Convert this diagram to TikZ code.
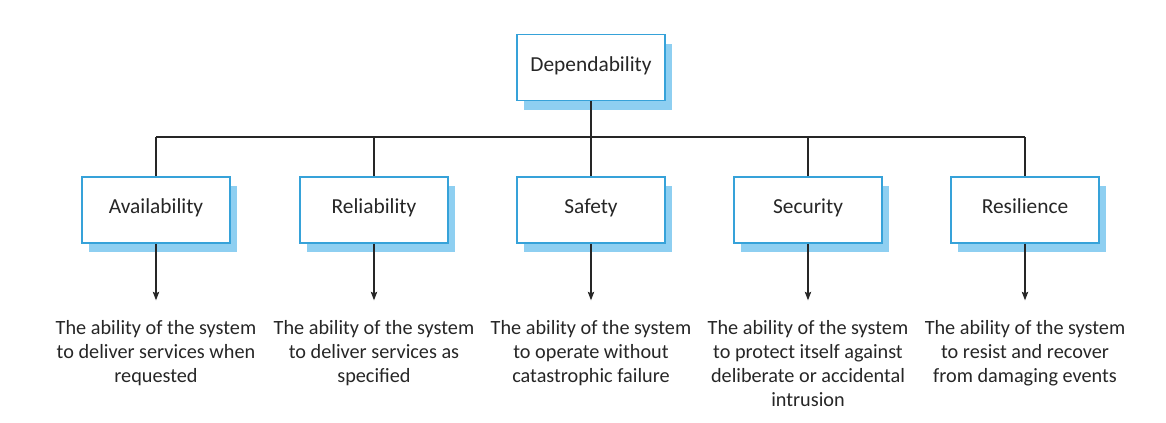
\documentclass[tikz,border=0pt]{standalone}
\usepackage{fontspec}
\setmainfont{Carlito}
\usetikzlibrary{arrows.meta,shadows}
\definecolor{boxblue}{HTML}{36A2D9}
\definecolor{shadeblue}{HTML}{8ECFF1}
\definecolor{inkgray}{HTML}{262626}
\begin{document}
\begin{tikzpicture}[x=0.025cm,y=-0.025cm,
	propbox/.style={draw=boxblue,line width=1.4pt,fill=white,minimum width=3.7cm,minimum height=1.65cm,
		text=inkgray,font=\fontsize{15.2}{18}\selectfont,text height=0.75em,text depth=0.22em,
		drop shadow={shadow xshift=0.18cm,shadow yshift=-0.23cm,fill=shadeblue,opacity=1}},
	proptext/.style={anchor=north,align=center,inner sep=0pt,text=inkgray,font=\fontsize{14.4}{17}\selectfont},
	link/.style={draw=inkgray,line width=0.9pt},
	arrowlink/.style={link,-{Stealth[length=6pt,width=4.5pt,inset=1pt]},shorten >=14pt}
]
\useasboundingbox (0,0) rectangle (1166,422);

\node[propbox] (dep) at (591,67.5) {Dependability};
\coordinate (bus) at (591,137);

%Eigenschaften
\node[propbox] (avail) at (156,210) {Availability};
\node[propbox] (rel) at (374,210) {Reliability};
\node[propbox] (safe) at (591,210) {Safety};
\node[propbox] (sec) at (808,210) {Security};
\node[propbox] (res) at (1025,210) {Resilience};

%Beschreibungen
\node[proptext] (availtxt) at (156,320) {The ability of the system\\to deliver services when\\requested};
\node[proptext] (reltxt) at (374,320) {The ability of the system\\to deliver services as\\specified};
\node[proptext] (safetxt) at (591,320) {The ability of the system\\to operate without\\catastrophic failure};
\node[proptext] (sectxt) at (808,320) {The ability of the system\\to protect itself against\\deliberate or accidental\\intrusion};
\node[proptext] (restxt) at (1025,320) {The ability of the system\\to resist and recover\\from damaging events};

\draw[link] (dep.south) -- (bus);
\draw[link] (avail.north |- bus) -- (res.north |- bus);
\foreach \n in {avail,rel,safe,sec,res}
{
	\draw[link] (\n.north) -- (\n.north |- bus);
	\draw[arrowlink] (\n.south) -- (\n txt.north);
}

\end{tikzpicture}
\end{document}
